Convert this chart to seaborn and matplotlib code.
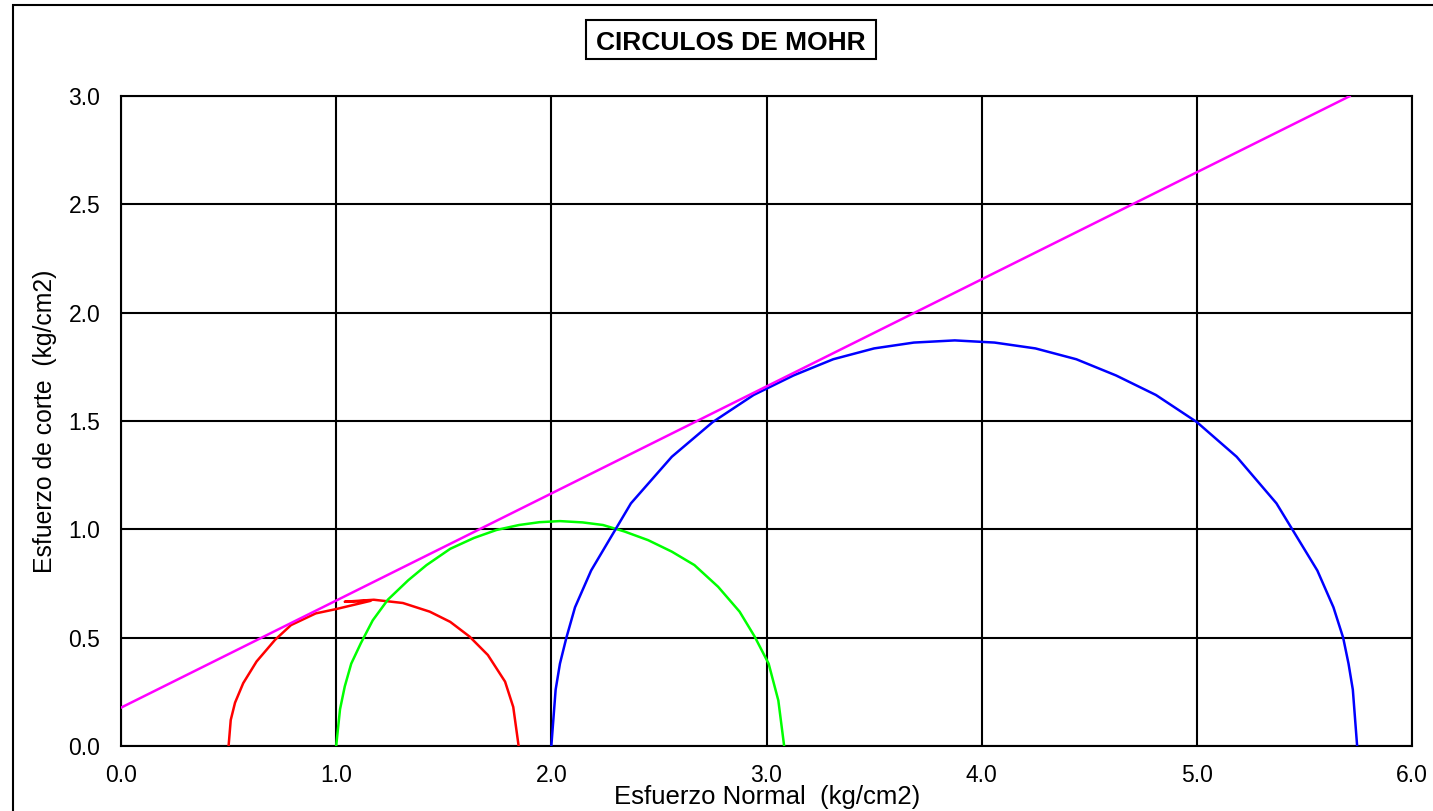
import matplotlib
matplotlib.use("Agg")
import matplotlib.pyplot as plt
import seaborn as sns
import pandas as pd
from matplotlib.patches import Rectangle

# ---- data ----
red_x = [0.50, 0.51, 0.53, 0.568, 0.63, 0.716, 0.79, 0.905, 1.00, 1.16, 1.04, 1.175,
         1.31, 1.435, 1.53, 1.62, 1.705, 1.785, 1.823, 1.848]
red_y = [0.00, 0.12, 0.20, 0.29, 0.39, 0.49, 0.558, 0.612, 0.632, 0.670, 0.666, 0.675,
         0.660, 0.620, 0.573, 0.505, 0.420, 0.297, 0.180, 0.00]

green_x = [1.00, 1.018, 1.04, 1.07, 1.115, 1.17, 1.24, 1.335, 1.42, 1.53, 1.64, 1.745,
           1.85, 1.945, 2.04, 2.145, 2.24, 2.34, 2.45, 2.56, 2.665, 2.775, 2.875,
           2.945, 3.01, 3.055, 3.082]
green_y = [0.00, 0.17, 0.275, 0.38, 0.475, 0.58, 0.675, 0.765, 0.835, 0.91, 0.96, 0.997,
           1.02, 1.033, 1.038, 1.032, 1.02, 0.99, 0.95, 0.897, 0.835, 0.735, 0.62,
           0.505, 0.38, 0.21, 0.00]

blue_x = [2.00, 2.02, 2.04, 2.07, 2.11, 2.185, 2.37, 2.56, 2.75, 2.94, 3.125, 3.31,
          3.50, 3.685, 3.875, 4.06, 4.25, 4.44, 4.625, 4.81, 5.00, 5.185, 5.37,
          5.56, 5.635, 5.68, 5.705, 5.725, 5.745]
blue_y = [0.00, 0.26, 0.38, 0.50, 0.64, 0.81, 1.12, 1.335, 1.495, 1.62, 1.71, 1.785,
          1.835, 1.862, 1.872, 1.862, 1.835, 1.785, 1.71, 1.62, 1.495, 1.335, 1.12,
          0.81, 0.64, 0.50, 0.38, 0.26, 0.00]

envelope_x = [0.0, 5.712]
envelope_y = [0.177, 3.0]

x_ticks = [0, 1, 2, 3, 4, 5, 6]
x_tick_labels = ["0.0", "1.0", "2.0", "3.0", "4.0", "5.0", "6.0"]
y_ticks = [0.0, 0.5, 1.0, 1.5, 2.0, 2.5, 3.0]
y_tick_labels = ["0.0", "0.5", "1.0", "1.5", "2.0", "2.5", "3.0"]

title = "CIRCULOS DE MOHR"
x_label = "Esfuerzo Normal  (kg/cm2)"
y_label = "Esfuerzo de corte  (kg/cm2)"

# ---- drawing ----
sns.set_theme(style="white")
plt.rcParams["font.family"] = ["Liberation Sans", "DejaVu Sans"]
plt.rcParams["text.color"] = "black"
plt.rcParams["xtick.color"] = "black"
plt.rcParams["ytick.color"] = "black"

W, H = 1433, 811
fig = plt.figure(figsize=(W / 100, H / 100), dpi=100)
fig.patch.set_facecolor("white")
ax = fig.add_axes([121 / W, 1 - 746 / H, (1412 - 121) / W, (746 - 96) / H])
ax.set_facecolor("white")

series = [
    (red_x, red_y, "#FF0000"),
    (green_x, green_y, "#00FF00"),
    (blue_x, blue_y, "#0000FF"),
    (envelope_x, envelope_y, "#FF00FF"),
]
for xs, ys, col in series:
    df = pd.DataFrame({"x": xs, "y": ys})
    sns.lineplot(data=df, x="x", y="y", sort=False, estimator=None,
                 color=col, linewidth=1.8, ax=ax, zorder=3)

ax.set_xlim(0, 6)
ax.set_ylim(0, 3)
ax.set_xticks(x_ticks)
ax.set_xticklabels(x_tick_labels)
ax.set_yticks(y_ticks)
ax.set_yticklabels(y_tick_labels)
ax.grid(True, color="black", linewidth=1.5)
ax.set_axisbelow(True)
ax.tick_params(axis="both", length=0, labelsize=16.5, colors="black",
               labelcolor="black")
ax.tick_params(axis="y", pad=15)
ax.tick_params(axis="x", pad=13)
ax.set_xlabel("")
ax.set_ylabel("")
for s in ax.spines.values():
    s.set_color("black")
    s.set_linewidth(1.5)

fig.text(767 / W, 1 - 804 / H, x_label, ha="center", va="baseline",
         fontsize=18.5, color="black")
fig.text(45 / W, 1 - 421 / H, y_label, ha="center", va="center",
         rotation=90, fontsize=17.8, color="black")

# title with box
fig.patches.append(Rectangle((586 / W, 1 - 59 / H), 290 / W, 39 / H,
                             transform=fig.transFigure, fill=False,
                             edgecolor="black", linewidth=1.5))
fig.text(730.5 / W, 1 - 49.5 / H, title, ha="center", va="baseline",
         fontsize=19, fontweight="bold", color="black")

# outer chart border
fig.patches.append(Rectangle((12.5 / W, -0.1), 1.2, (1 - 4.5 / H) + 0.1,
                             transform=fig.transFigure, fill=False,
                             edgecolor="black", linewidth=1.5))

fig.savefig("out.png", dpi=100)
